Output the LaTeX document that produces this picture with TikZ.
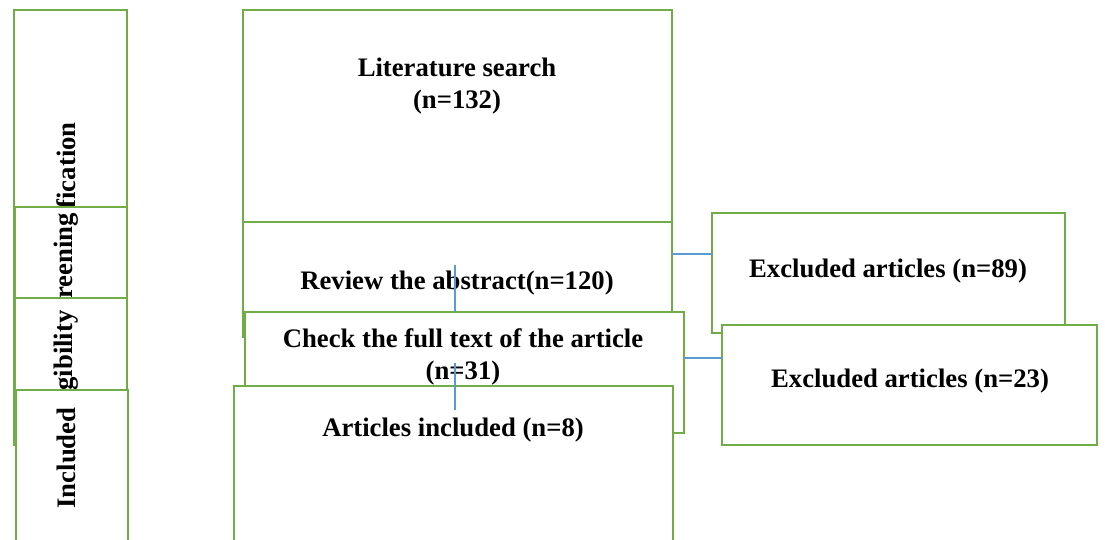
\documentclass[tikz,border=0pt]{standalone}
\usepackage{fontspec}
\setmainfont{Liberation Serif}
\usepackage{tikz}
\usetikzlibrary{calc}
\usepackage{xcolor}
\definecolor{boxGreen}{RGB}{112, 173, 71}
\definecolor{linkBlue}{RGB}{91, 155, 213}

\begin{document}
\begin{tikzpicture}[x=0.02cm, y=-0.02cm, font=\bfseries\fontsize{15.2}{18.2}\selectfont, box/.style={draw=boxGreen, fill=white, line width=1.4pt, inner sep=0pt, outer sep=0pt}, label/.style={inner sep=0pt, align=center, text=black}, link/.style={draw=linkBlue, line width=0.9pt}]
    \clip (0,0) rectangle (1105,539);

    % phase column
    \node[box, minimum width=2.26cm, minimum height=8.7cm] (ident) at (70.5,227.5) {};
    \node[label, rotate=90, anchor=east] (identtxt) at (66,122) {Identification};
    \node[box, minimum width=2.24cm, minimum height=3.86cm] (screen) at (71,303.5) {};
    \node[label, rotate=90, anchor=east] (screentxt) at (66,213) {Screening};
    \node[box, minimum width=2.24cm, minimum height=2.94cm] (elig) at (71,371.5) {};
    \node[label, rotate=90, anchor=east] (eligtxt) at (66,310) {Eligibility};
    \node[box, minimum width=2.24cm, minimum height=3.6cm] (incl) at (72,480) {};
    \node[label, rotate=90] (incltxt) at (66,458) {Included};

    % main flow
    \node[box, minimum width=8.58cm, minimum height=6.4cm] (search) at (457.5,170) {};
    \node[label] (searchtxt) at (457,86) {Literature search\\(n=132)};
    \node[box, minimum width=8.58cm, minimum height=2.3cm] (review) at (457.5,279.5) {};
    \node[label] (reviewtxt) at (457,283) {Review the abstract(n=120)};
    \node[box, minimum width=8.78cm, minimum height=2.42cm] (fulltext) at (464.5,372.5) {};
    \node[label] (fulltexttxt) at (463,357) {Check the full text of the article\\(n=31)};
    \node[box, minimum width=8.78cm, minimum height=3.68cm] (included) at (453.5,478) {};
    \node[label] (includedtxt) at (453,430) {Articles included (n=8)};

    % exclusions
    \node[box, minimum width=7.06cm, minimum height=2.4cm] (excabs) at (888.5,273) {};
    \node[label] at (888,271) {Excluded articles (n=89)};
    \node[box, minimum width=7.5cm, minimum height=2.4cm] (excfull) at (909.5,385) {};
    \node[label] at (910,381) {Excluded articles (n=23)};

    \draw[link] ($(reviewtxt.north)+(-2,-6)$) -- ($(fulltext.north)+(-9.5,0)$);
    \draw[link] ($(fulltexttxt.center)+(-8,6)$) -- ($(included.north)+(1.5,24)$);
    \draw[link] ($(review.east)+(0,-25.5)$) -- ($(excabs.west)+(0,-19)$);
    \draw[link] ($(fulltext.east)+(0,-14.5)$) -- ($(excfull.west)+(0,-27)$);
\end{tikzpicture}
\end{document}
